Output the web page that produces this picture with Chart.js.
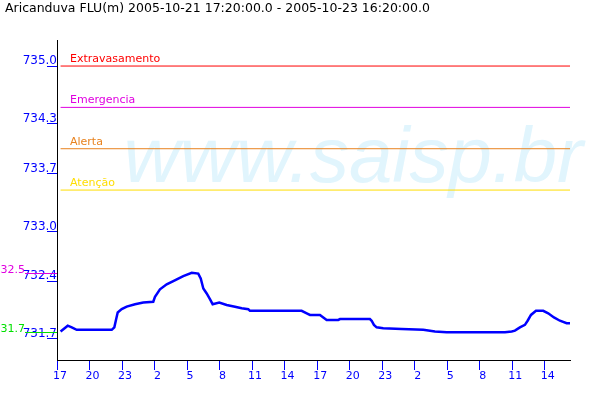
<!DOCTYPE html>
<html>
<head>
<meta charset="utf-8">
<title>Aricanduva FLU</title>
<script src="https://cdn.jsdelivr.net/npm/chart.js@4"></script>
<style>
  html, body { margin: 0; padding: 0; background: #fff; }
</style>
</head>
<body>
<canvas id="levelChart" width="600" height="400"></canvas>
<script>
const titleText = 'Aricanduva FLU(m) 2005-10-21 17:20:00.0 - 2005-10-23 16:20:00.0';

// hours counted from 2005-10-21 00:00
const hours = [17.33, 17.99, 18.36, 18.82, 22.05, 22.29, 22.44, 22.60, 22.97, 23.43,
  24.20, 24.96, 25.88, 26.04, 26.50, 27.12, 27.73, 28.65, 29.43, 30.03,
  30.26, 30.50, 30.81, 31.11, 31.36, 31.97, 32.65, 33.42, 34.04, 34.65,
  34.80, 39.57, 40.04, 40.34, 41.26, 41.57, 41.88, 42.95, 43.11, 45.87,
  46.03, 46.24, 46.49, 47.10, 48.80, 50.79, 51.87, 52.95, 58.33, 58.95,
  59.25, 59.71, 60.17, 60.42, 60.73, 61.19, 61.86, 62.32, 62.85, 63.40,
  64.02, 64.33];
const levels = [731.79, 731.86, 731.84, 731.81, 731.81, 731.84, 731.93, 732.02, 732.06, 732.09,
  732.12, 732.14, 732.15, 732.21, 732.30, 732.36, 732.40, 732.46, 732.50, 732.49,
  732.43, 732.31, 732.25, 732.18, 732.12, 732.14, 732.11, 732.09, 732.07, 732.06,
  732.04, 732.04, 732.01, 731.99, 731.99, 731.96, 731.93, 731.93, 731.94, 731.94,
  731.92, 731.87, 731.84, 731.83, 731.82, 731.81, 731.79, 731.78, 731.78, 731.79,
  731.80, 731.84, 731.87, 731.92, 731.99, 732.04, 732.04, 732.01, 731.96, 731.92,
  731.89, 731.89];

const yTicks = [731.7, 732.4, 733.0, 733.7, 734.3, 735.0];
const xTicks = [17, 20, 23, 26, 29, 32, 35, 38, 41, 44, 47, 50, 53, 56, 59, 62];

// alarm levels
const limitNames = ['Extravasamento', 'Emergencia', 'Alerta', 'Atenção'];
const limitValues = [735.0, 734.5, 734.0, 733.5];
const limitColors = ['#ff0000', '#e000e0', '#e8821e', '#ffdd00'];

// max / min marks left of the axis
const markLabels = ['732.5', '731.7'];
const markValues = [732.50, 731.78];
const markColors = ['#e000e0', '#00e000'];

const start = hours[0];
const end = hours[hours.length - 1];

const datasets = [{
  data: hours.map((h, i) => ({ x: h, y: levels[i] })),
  borderColor: '#0000ff',
  borderWidth: 2.5,
  pointRadius: 0,
  tension: 0
}];
limitValues.forEach((v, i) => {
  datasets.push({
    data: [{ x: start, y: v }, { x: end, y: v }],
    borderColor: limitColors[i],
    borderWidth: 1,
    pointRadius: 0
  });
});

const decor = {
  id: 'decor',
  beforeDatasetsDraw(chart) {
    const ctx = chart.ctx;
    ctx.save();
    ctx.font = 'italic 78px "Liberation Sans"';
    ctx.fillStyle = '#e1f5fd';
    ctx.textAlign = 'right';
    ctx.fillText('www.saisp.br', 583, 182);
    ctx.restore();
  },
  afterDatasetsDraw(chart) {
    const ctx = chart.ctx;
    const y = chart.scales.y;
    const left = chart.chartArea.left;
    ctx.save();
    ctx.font = '11px "DejaVu Sans"';
    ctx.textBaseline = 'alphabetic';
    limitNames.forEach((name, i) => {
      ctx.fillStyle = limitColors[i];
      ctx.fillText(name, left + 13, y.getPixelForValue(limitValues[i]) - 4);
    });
    ctx.textAlign = 'right';
    markValues.forEach((v, i) => {
      const py = Math.round(y.getPixelForValue(v)) + 0.5;
      ctx.strokeStyle = markColors[i];
      ctx.lineWidth = 1;
      ctx.beginPath();
      ctx.moveTo(25, py);
      ctx.lineTo(left, py);
      ctx.stroke();
      ctx.fillStyle = markColors[i];
      ctx.fillText(markLabels[i], 25, py - 1);
    });
    ctx.restore();
  }
};

new Chart(document.getElementById('levelChart'), {
  type: 'line',
  data: { datasets },
  plugins: [decor],
  options: {
    responsive: false,
    animation: false,
    layout: { padding: { left: 5, right: 30, top: 0, bottom: 0 } },
    plugins: {
      legend: { display: false },
      tooltip: { enabled: false },
      title: {
        display: true,
        text: titleText,
        align: 'start',
        color: '#000',
        font: { family: 'DejaVu Sans', size: 12.5, weight: 'normal' },
        padding: { top: 1, bottom: 24 }
      }
    },
    scales: {
      x: {
        type: 'linear',
        min: 17,
        max: end,
        afterBuildTicks: s => { s.ticks = xTicks.map(v => ({ value: v })); },
        afterFit: s => { s.height = 40; },
        border: { color: '#000', width: 1 },
        grid: { drawOnChartArea: false, tickLength: 10, color: '#0000ff' },
        ticks: {
          color: '#0000ff',
          font: { family: 'DejaVu Sans', size: 11 },
          padding: 0,
          labelOffset: 3,
          maxRotation: 0,
          autoSkip: false,
          callback: v => String(v % 24)
        }
      },
      y: {
        min: 731.445,
        max: 735.315,
        afterBuildTicks: s => { s.ticks = yTicks.map(v => ({ value: v })); },
        afterFit: s => { s.width = 52; },
        border: { color: '#000', width: 1 },
        grid: { drawOnChartArea: false, tickLength: 10, color: '#0000ff' },
        ticks: {
          color: '#0000ff',
          font: { family: 'DejaVu Sans', size: 12 },
          padding: -10,
          labelOffset: -5,
          callback: v => v.toFixed(1)
        }
      }
    }
  }
});
</script>
</body>
</html>
